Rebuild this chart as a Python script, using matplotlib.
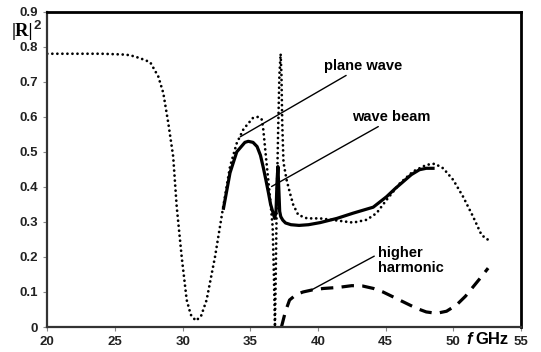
import matplotlib
matplotlib.use("Agg")
import matplotlib.pyplot as plt

# ---- data ----
plane_f = [20, 22, 24, 25.5, 26.1, 26.8, 27.6, 28.2, 28.57, 28.94, 29.3, 29.56, 29.93,
           30.3, 30.6, 30.97, 31.35, 31.77, 32.39, 32.76, 33.0, 33.5, 34.0, 34.5, 35.2,
           35.6, 35.85, 35.96, 36.2, 36.45, 36.65, 36.75, 36.82, 36.88, 36.95, 37.05,
           37.15, 37.24, 37.3, 37.36, 37.45, 37.68, 37.93, 38.17, 38.54, 39.2, 40.16,
           41.4, 42.6, 43.6, 44.33, 45.07, 46.05, 47.03, 48.02, 48.63, 49.25, 49.99,
           50.72, 51.46, 52.08, 52.5, 52.8]
plane_r = [0.78, 0.78, 0.78, 0.778, 0.776, 0.768, 0.756, 0.715, 0.668, 0.582, 0.487, 0.344,
           0.2, 0.077, 0.035, 0.018, 0.03, 0.077, 0.2, 0.287, 0.344, 0.458, 0.525, 0.565,
           0.597, 0.6, 0.592, 0.563, 0.468, 0.372, 0.287, 0.134, 0.0, 0.15, 0.35, 0.55,
           0.72, 0.78, 0.72, 0.58, 0.47, 0.42, 0.382, 0.349, 0.32, 0.31, 0.31,
           0.304, 0.298, 0.306, 0.325, 0.363, 0.41, 0.444, 0.463, 0.466, 0.453, 0.42,
           0.372, 0.315, 0.263, 0.25, 0.25]

beam_f = [33.02, 33.5, 34.0, 34.6, 34.85, 35.2, 35.5, 35.75, 35.96, 36.15, 36.33, 36.5,
          36.65, 36.8, 36.9, 36.98, 37.04, 37.1, 37.17, 37.25, 37.4, 37.6, 38.0, 38.6,
          39.3, 40.16, 41.4, 42.6, 44.08, 45.07, 45.7, 46.3, 46.9, 47.5, 48.0, 48.5]
beam_r = [0.339, 0.44, 0.5, 0.527, 0.53, 0.527, 0.515, 0.49, 0.455, 0.42, 0.385, 0.35,
          0.33, 0.31, 0.33, 0.42, 0.458, 0.4, 0.33, 0.315, 0.305, 0.297, 0.292, 0.29,
          0.292, 0.298, 0.31, 0.325, 0.342, 0.372, 0.395, 0.415, 0.435, 0.449, 0.453, 0.453]

harm_f = [37.3, 37.6, 37.9, 38.4, 38.9, 39.6, 40.4, 41.5, 42.5, 43.3, 44.1, 44.8, 45.6,
          46.5, 47.3, 48.0, 48.76, 49.5, 50.24, 50.9, 51.47, 52.0, 52.57]
harm_r = [0.0, 0.045, 0.077, 0.093, 0.1, 0.106, 0.11, 0.113, 0.118, 0.117, 0.11, 0.1, 0.085,
          0.068, 0.053, 0.043, 0.039, 0.045, 0.063, 0.088, 0.115, 0.14, 0.168]

x_ticks = [20, 25, 30, 35, 40, 45, 50, 55]
y_ticks = [0, 0.1, 0.2, 0.3, 0.4, 0.5, 0.6, 0.7, 0.8, 0.9]
y_labels = ["0", "0.1", "0.2", "0.3", "0.4", "0.5", "0.6", "0.7", "0.8", "0.9"]

plt.rcParams['font.family'] = ['Liberation Sans', 'DejaVu Sans']

fig = plt.figure(figsize=(5.41, 3.52), dpi=100)
ax = fig.add_axes([47.3 / 541, 1 - 327 / 352, (521 - 47.3) / 541, (327 - 11.7) / 352])

ax.plot(plane_f, plane_r, color='black', lw=2.0, linestyle=(0, (0.01, 1.8)),
        dash_capstyle='round', solid_capstyle='round')
ax.plot(beam_f, beam_r, color='black', lw=2.3, solid_joinstyle='round')
ax.plot(harm_f, harm_r, color='black', lw=2.3, linestyle=(0, (3.9, 2.6)))

ax.set_xlim(20, 55)
ax.set_ylim(0, 0.9)
ax.set_xticks(x_ticks)
ax.set_xticklabels([str(t) for t in x_ticks])
ax.set_yticks(y_ticks)
ax.set_yticklabels(y_labels)
ax.tick_params(axis='both', direction='out', length=3, width=0.8, color='#888888',
               labelsize=9.5, pad=3.5)
for lab in ax.get_xticklabels() + ax.get_yticklabels():
    lab.set_fontweight('bold')
    lab.set_color('#222222')

for side in ['left', 'bottom']:
    ax.spines[side].set_linewidth(1.6)
    ax.spines[side].set_color('#333333')
for side in ['top', 'right']:
    ax.spines[side].set_linewidth(2.0)
    ax.spines[side].set_color('black')

# annotations
ax.annotate("plane wave", xy=(34.26, 0.543), xytext=(43.3, 0.746),
            ha='center', va='center', fontsize=10.5, fontweight='bold',
            arrowprops=dict(arrowstyle='-', color='black', lw=1.0,
                            shrinkA=0, shrinkB=0, relpos=(0.35, 0.0)))
ax.annotate("wave beam", xy=(36.57, 0.401), xytext=(45.4, 0.6),
            ha='center', va='center', fontsize=10.5, fontweight='bold',
            arrowprops=dict(arrowstyle='-', color='black', lw=1.0,
                            shrinkA=0, shrinkB=0, relpos=(0.4, 0.0)))
ax.annotate("higher\nharmonic", xy=(39.53, 0.106), xytext=(44.4, 0.19),
            ha='left', va='center', fontsize=10.5, fontweight='bold', linespacing=1.05,
            arrowprops=dict(arrowstyle='-', color='black', lw=1.0,
                            shrinkA=0, shrinkB=0, relpos=(-0.05, 0.65)))

# axis labels
fig.text(12 / 541, 1 - 32 / 352, "|R|", fontsize=13.5, fontweight='bold',
         family=['Liberation Serif', 'DejaVu Serif'], ha='left', va='center')
fig.text(34 / 541, 1 - 26 / 352, "2", fontsize=9.5, fontweight='bold',
         ha='left', va='center', color='#222222')
fig.text(466 / 541, 1 - 339 / 352, "f", fontsize=12, fontweight='bold', style='italic',
         ha='left', va='center')
fig.text(475 / 541, 1 - 339 / 352, "GHz", fontsize=12, fontweight='bold',
         ha='left', va='center')

fig.savefig("out.png", dpi=100)
